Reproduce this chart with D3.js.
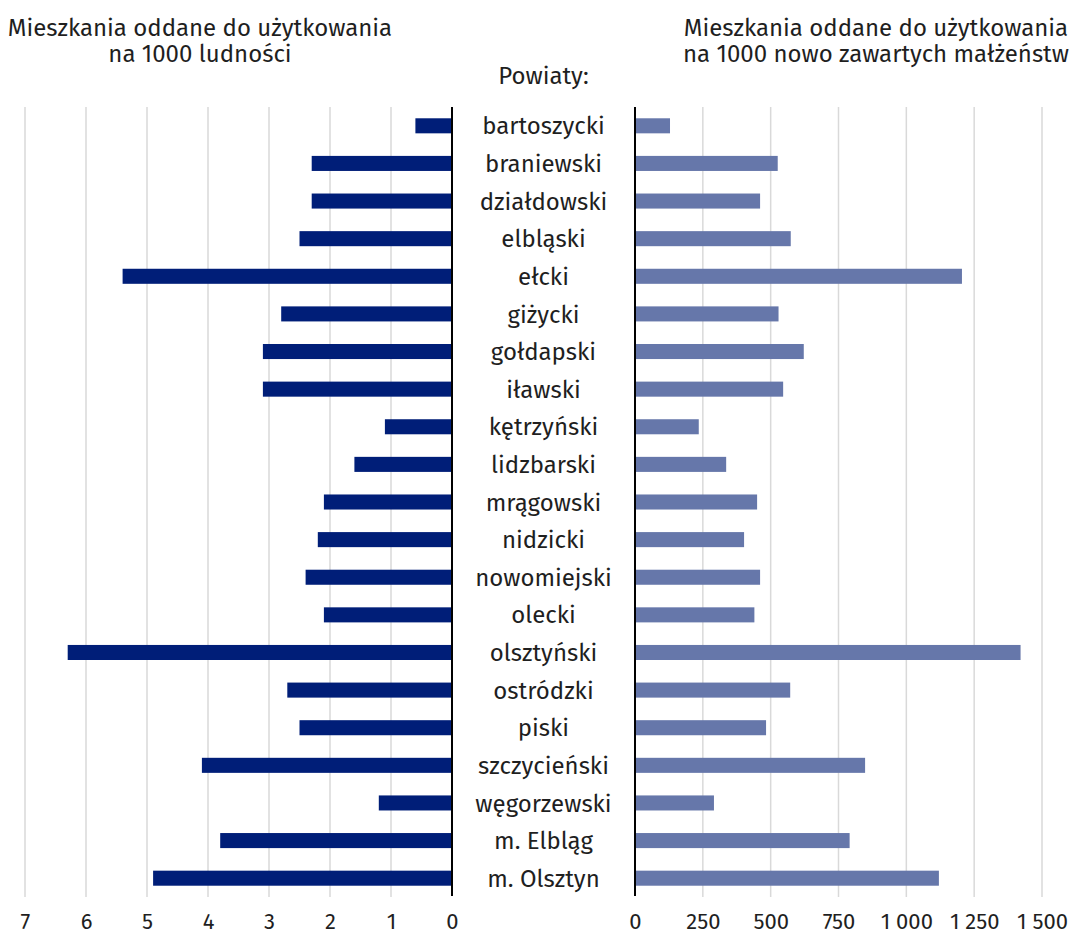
<!DOCTYPE html>
<html>
<head>
<meta charset="utf-8">
<script src="https://cdn.jsdelivr.net/npm/d3@7"></script>
<style>
  body { margin: 0; background: #fff; }
  text { font-family: "Fira Sans", "Open Sans", "Noto Sans", sans-serif; fill: #1f1f1f; }
</style>
</head>
<body>
<svg id="chart" width="1072" height="935"></svg>
<script>
const powiaty = ["bartoszycki","braniewski","działdowski","elbląski","ełcki","giżycki","gołdapski",
  "iławski","kętrzyński","lidzbarski","mrągowski","nidzicki","nowomiejski","olecki","olsztyński",
  "ostródzki","piski","szczycieński","węgorzewski","m. Elbląg","m. Olsztyn"];
// mieszkania na 1000 ludnosci
const naLudnosc = [0.6,2.3,2.3,2.5,5.4,2.8,3.1,3.1,1.1,1.6,2.1,2.2,2.4,2.1,6.3,2.7,2.5,4.1,1.2,3.8,4.9];
// mieszkania na 1000 nowo zawartych malzenstw
const naMalzenstwa = [129,526,461,574,1205,529,622,546,235,336,450,402,461,440,1421,572,483,848,291,791,1120];
const leftTicks = [0,1,2,3,4,5,6,7];
const rightTicks = [0,250,500,750,1000,1250,1500];

let svg = d3.select('#chart');
let plTop = 107, plBottom = 897;

let xLeft = d3.scaleLinear().domain([0,7]).range([452,25]);
let xRight = d3.scaleLinear().domain([0,1500]).range([635,1042]);
let y = d3.scaleBand().domain(powiaty).range([plTop,plBottom])
    .paddingInner(0.6).paddingOuter(0.3);

let pl = d3.formatLocale({decimal: ",", thousands: "\u00a0", grouping: [3], currency: ["",""]});
let fmt = pl.format(",d");

// grid
svg.append('g').selectAll('line')
    .data(leftTicks.filter(d => d > 0))
    .enter().append('line')
    .attr('x1', d => xLeft(d)).attr('x2', d => xLeft(d))
    .attr('y1', plTop).attr('y2', plBottom)
    .attr('stroke', '#d9d9d9').attr('stroke-width', 1.5);
svg.append('g').selectAll('line')
    .data(rightTicks.filter(d => d > 0))
    .enter().append('line')
    .attr('x1', d => xRight(d)).attr('x2', d => xRight(d))
    .attr('y1', plTop).attr('y2', plBottom)
    .attr('stroke', '#d9d9d9').attr('stroke-width', 1.5);

// bars
svg.append('g').selectAll('rect')
    .data(powiaty)
    .enter().append('rect')
    .attr('x', (d,i) => xLeft(naLudnosc[i]))
    .attr('y', d => y(d))
    .attr('width', (d,i) => xLeft(0) - xLeft(naLudnosc[i]))
    .attr('height', y.bandwidth())
    .attr('fill', '#001e78');
svg.append('g').selectAll('rect')
    .data(powiaty)
    .enter().append('rect')
    .attr('x', xRight(0))
    .attr('y', d => y(d))
    .attr('width', (d,i) => xRight(naMalzenstwa[i]) - xRight(0))
    .attr('height', y.bandwidth())
    .attr('fill', '#6677aa');

// zero lines
[xLeft(0), xRight(0)].forEach(function(x){
    svg.append('line')
        .attr('x1', x).attr('x2', x)
        .attr('y1', plTop).attr('y2', plBottom - 1)
        .attr('stroke', '#000').attr('stroke-width', 2);
});

// category names in the middle
let midX = (xLeft(0) + xRight(0)) / 2;
svg.append('g').selectAll('text')
    .data(powiaty)
    .enter().append('text')
    .attr('x', midX)
    .attr('y', d => y(d) + y.bandwidth()/2)
    .attr('dy', '0.36em')
    .attr('text-anchor', 'middle')
    .attr('font-size', '24px')
    .text(d => d);

// bottom axes
let axL = svg.append('g').attr('transform', 'translate(0,929)')
    .call(d3.axisBottom(xLeft).tickValues(leftTicks).tickSize(0).tickPadding(0).tickFormat(d3.format('d')));
let axR = svg.append('g').attr('transform', 'translate(0,929)')
    .call(d3.axisBottom(xRight).tickValues(rightTicks).tickSize(0).tickPadding(0).tickFormat(fmt));
[axL, axR].forEach(function(ax){
    ax.select('.domain').remove();
    ax.selectAll('text')
        .attr('y', 0).attr('dy', 0)
        .attr('font-size', '22px')
        .style('font-family', '"Fira Sans", "Open Sans", "Noto Sans", sans-serif')
        .style('fill', '#1f1f1f');
});

// titles
let titles = svg.append('g').attr('font-size', '24px').attr('text-anchor', 'middle');
titles.append('text').attr('x', 200).attr('y', 36).text('Mieszkania oddane do użytkowania');
titles.append('text').attr('x', 200).attr('y', 62).text('na 1000 ludności');
titles.append('text').attr('x', 876).attr('y', 36).text('Mieszkania oddane do użytkowania');
titles.append('text').attr('x', 876).attr('y', 62).text('na 1000 nowo zawartych małżeństw');
titles.append('text').attr('x', midX).attr('y', 84).text('Powiaty:');
</script>
</body>
</html>
